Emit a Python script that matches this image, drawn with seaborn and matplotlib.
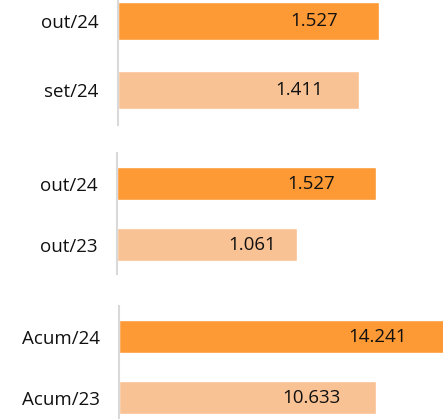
import matplotlib
matplotlib.use("Agg")
import matplotlib.pyplot as plt
import seaborn as sns
import pandas as pd

# Data
month_labels = ["out/24", "set/24"]
month_values = [1.527, 1.411]

yoy_labels = ["out/24", "out/23"]
yoy_values = [1.527, 1.061]

acum_labels = ["Acum/24", "Acum/23"]
acum_values = [14.241, 10.633]

dark_orange = "#FD9A35"
light_orange = "#F9C294"

sns.set_theme(style="white")
plt.rcParams['font.family'] = ['Open Sans', 'DejaVu Sans']

fig = plt.figure(figsize=(4.43, 4.19), dpi=100)

# axes boxes [left, bottom, width, height] in figure fraction, plus xlim / ylim
panels = [
    (month_labels, month_values, [118 / 443, 294 / 419, 325 / 443, 125 / 419], 1.90, (1.507, -0.304), 0.55),
    (yoy_labels, yoy_values, [117 / 443, 145 / 419, 326 / 443, 121 / 419], 1.92, (1.48, -0.5), 0.54),
    (acum_labels, acum_values, [119 / 443, 0.0, 324 / 443, 113 / 419], 13.4, (1.35, -0.5), 0.54),
]

for labels, values, box, xmax, ylim, bar_w in panels:
    ax = fig.add_axes(box)
    df = pd.DataFrame({"label": labels, "value": values})
    sns.barplot(data=df, x="value", y="label", hue="label", orient="h",
                palette=[dark_orange, light_orange], width=bar_w,
                legend=False, ax=ax, saturation=1)
    ax.set_xlim(0, xmax)
    ax.set_ylim(*ylim)
    ax.set_xlabel("")
    ax.set_ylabel("")
    ax.set_xticks([])
    for side in ["top", "right", "bottom"]:
        ax.spines[side].set_visible(False)
    ax.spines["left"].set_color("#D9D9D9")
    ax.spines["left"].set_linewidth(1.5)
    ax.tick_params(axis="y", length=0, pad=14, labelsize=13.5, labelcolor="#111111")
    for i, v in enumerate(values):
        ax.text(v * 0.75, i, f"{v:.3f}", ha="center", va="center",
                fontsize=13.5, color="#111111", clip_on=False)
    ax.patch.set_alpha(0)

fig.savefig("out.png", dpi=100)
